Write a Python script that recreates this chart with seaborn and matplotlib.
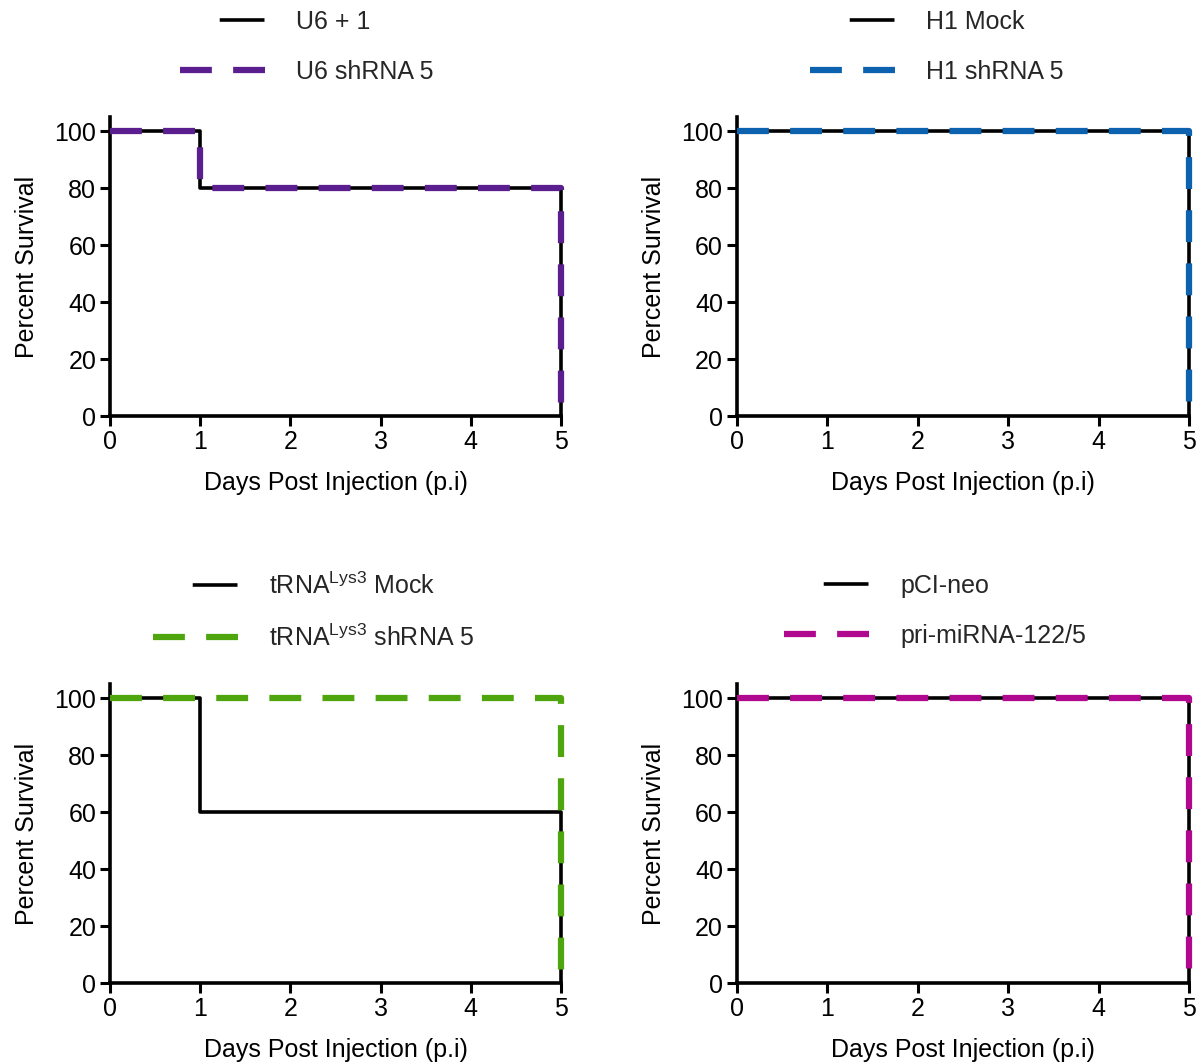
import matplotlib
matplotlib.use("Agg")
import matplotlib.pyplot as plt
import seaborn as sns
import pandas as pd
from matplotlib.lines import Line2D

# survival data (percent) per panel
u6_days = [0, 1, 5]
u6_mock = [100, 80, 0]
u6_shrna = [100, 80, 0]

h1_days = [0, 5]
h1_mock = [100, 0]
h1_shrna = [100, 0]

trna_mock_days = [0, 1, 5]
trna_mock = [100, 60, 0]
trna_sh_days = [0, 5]
trna_shrna = [100, 0]

pci_days = [0, 5]
pci_neo = [100, 0]
pri_mirna = [100, 0]

sns.set_theme(style="ticks")
plt.rcParams["font.family"] = ["Liberation Sans", "DejaVu Sans"]
plt.rcParams["mathtext.fontset"] = "custom"
plt.rcParams["mathtext.rm"] = "Liberation Sans"
plt.rcParams["mathtext.it"] = "Liberation Sans:italic"
plt.rcParams["mathtext.bf"] = "Liberation Sans:bold"

FS = 18
LW_SOLID = 2.6
LW_DASH = 4.5
DASH = (0, (5.1, 3.4))
SOLID_HANDLE = (12.4, (12.4, 11.0))

panels = [
    dict(pos=[0.0914, 0.609, 0.3746, 0.281],
         solid=(u6_days, u6_mock), dashed=(u6_days, u6_shrna),
         labels=("U6 + 1", "U6 shRNA 5"), color="#5a1e8e", lx=0.155, ly=1.11),
    dict(pos=[0.6121, 0.609, 0.3754, 0.281],
         solid=(h1_days, h1_mock), dashed=(h1_days, h1_shrna),
         labels=("H1 Mock", "H1 shRNA 5"), color="#0d62b0", lx=0.162, ly=1.11),
    dict(pos=[0.0914, 0.0761, 0.3746, 0.281],
         solid=(trna_mock_days, trna_mock), dashed=(trna_sh_days, trna_shrna),
         labels=(r"tRNA$^{\mathrm{Lys3}}$ Mock", r"tRNA$^{\mathrm{Lys3}}$ shRNA 5"),
         color="#4ea50e", lx=0.095, ly=1.11),
    dict(pos=[0.6121, 0.0761, 0.3754, 0.281],
         solid=(pci_days, pci_neo), dashed=(pci_days, pri_mirna),
         labels=("pCI-neo", "pri-miRNA-122/5"), color="#b0088e", lx=0.104, ly=1.12),
]

fig = plt.figure(figsize=(12.04, 10.64), dpi=100)

for p in panels:
    ax = fig.add_axes(p["pos"])
    df_s = pd.DataFrame({"day": p["solid"][0], "pct": p["solid"][1]})
    df_d = pd.DataFrame({"day": p["dashed"][0], "pct": p["dashed"][1]})
    sns.lineplot(data=df_s, x="day", y="pct", ax=ax, color="black",
                 lw=LW_SOLID, drawstyle="steps-post", clip_on=False, zorder=3)
    sns.lineplot(data=df_d, x="day", y="pct", ax=ax, color=p["color"],
                 lw=LW_DASH, linestyle=DASH, drawstyle="steps-post",
                 clip_on=False, zorder=4)

    ax.set_xlim(0, 5)
    ax.set_ylim(0, 105)
    ax.set_xticks(range(0, 6))
    ax.set_yticks(range(0, 101, 20))
    sns.despine(ax=ax)
    for side in ("left", "bottom"):
        ax.spines[side].set_linewidth(2.6)
        ax.spines[side].set_color("black")
    ax.tick_params(direction="out", length=7, width=2.2, color="black",
                   labelsize=FS, labelcolor="black", pad=3)
    ax.set_xlabel("Days Post Injection (p.i)", fontsize=FS, labelpad=12, color="black")
    ax.set_ylabel("Percent Survival", fontsize=FS, labelpad=11, color="black")

    handles = [
        Line2D([], [], color="black", lw=LW_SOLID, linestyle=SOLID_HANDLE),
        Line2D([], [], color=p["color"], lw=LW_DASH, linestyle=DASH),
    ]
    ax.legend(handles=handles, labels=list(p["labels"]), loc="lower left",
              bbox_to_anchor=(p["lx"], p["ly"]), frameon=False, fontsize=FS,
              handlelength=3.4, handletextpad=1.25, labelspacing=1.05,
              borderpad=0, borderaxespad=0)

plt.savefig("out.png", dpi=100)
